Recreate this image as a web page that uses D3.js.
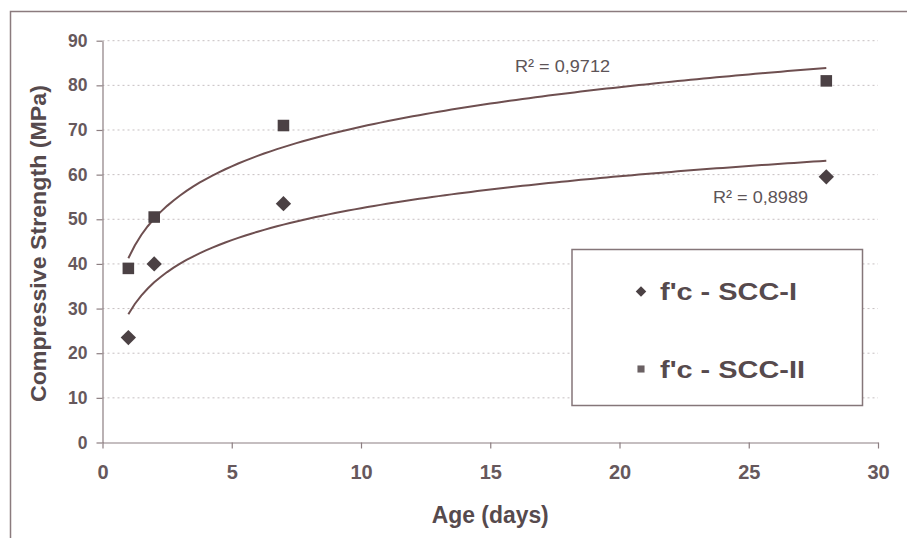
<!DOCTYPE html>
<html>
<head>
<meta charset="utf-8">
<script src="https://cdn.jsdelivr.net/npm/d3@7"></script>
<style>
  body { margin: 0; background: #fff; }
  svg { display: block; }
  .tick text { font-family: "Liberation Sans", Arial, sans-serif; font-weight: bold; fill: #66585c; }
  .title { font-family: "Liberation Sans", Arial, sans-serif; font-weight: bold; fill: #564a4d; }
</style>
</head>
<body>
<div class="chart"></div>
<script>
// data
const days = [1, 2, 7, 28];
const scc1 = [23.5, 40, 53.5, 59.5];
const scc2 = [39, 50.5, 71, 81];
const seriesNames = ["f'c - SCC-I", "f'c - SCC-II"];
const r2Labels = ['R\u00b2 = 0,8989', 'R\u00b2 = 0,9712'];
const xTicks = [0, 5, 10, 15, 20, 25, 30];
const yTicks = [0, 10, 20, 30, 40, 50, 60, 70, 80, 90];

const W = 907, H = 538;
const ink = '#4b4144';
const lineCol = '#6e4f50';

const svg = d3.select('.chart').append('svg').attr('width', W).attr('height', H);

// outer frame (right and bottom run off the picture)
svg.append('path')
  .attr('d', 'M10.5,545 V11.5 H915')
  .attr('fill', 'none')
  .attr('stroke', '#8b7b7e')
  .attr('stroke-width', 1.5);

const x = d3.scaleLinear().domain([0, 30]).range([102.5, 878]);
const y = d3.scaleLinear().domain([0, 90]).range([442.5, 40.7]);

// dotted gridlines
svg.append('g')
  .selectAll('line')
  .data(yTicks.filter(d => d > 0))
  .enter()
  .append('line')
  .attr('x1', x(0))
  .attr('x2', x(30))
  .attr('y1', d => y(d))
  .attr('y2', d => y(d))
  .attr('stroke', '#c6bfc1')
  .attr('stroke-width', 1)
  .attr('stroke-dasharray', '2,3');

const yAxis = svg.append('g')
  .attr('transform', `translate(${x(0)},0)`)
  .call(d3.axisLeft(y).tickValues(yTicks).tickSize(6).tickPadding(9).tickSizeOuter(0));
yAxis.selectAll('text').style('font-size', '17.5px');

const xAxis = svg.append('g')
  .attr('transform', `translate(0,${y(0)})`)
  .call(d3.axisBottom(x).tickValues(xTicks).tickSize(6).tickPadding(16).tickSizeOuter(0));
xAxis.selectAll('text').style('font-size', '20px');

svg.selectAll('.domain, .tick line').attr('stroke', '#8c7e81').attr('stroke-width', 1.2);

// axis titles
svg.append('text')
  .attr('class', 'title')
  .attr('x', x(15))
  .attr('y', 523)
  .attr('text-anchor', 'middle')
  .attr('textLength', 117)
  .attr('lengthAdjust', 'spacingAndGlyphs')
  .style('font-size', '23px')
  .text('Age (days)');

svg.append('text')
  .attr('class', 'title')
  .attr('transform', `translate(46,${(y(0) + y(90)) / 2 + 2}) rotate(-90)`)
  .attr('text-anchor', 'middle')
  .attr('textLength', 317)
  .attr('lengthAdjust', 'spacingAndGlyphs')
  .style('font-size', '22px')
  .text('Compressive Strength (MPa)');

// logarithmic trend lines, fitted to the points
function logFit(xs, ys) {
  const lx = xs.map(Math.log);
  const mx = d3.mean(lx), my = d3.mean(ys);
  const sxy = d3.sum(lx, (v, i) => (v - mx) * (ys[i] - my));
  const sxx = d3.sum(lx, v => (v - mx) * (v - mx));
  const a = sxy / sxx;
  return { a, b: my - a * mx };
}

const line = d3.line().x(d => x(d[0])).y(d => y(d[1])).curve(d3.curveLinear);
const span = d3.range(1, 28.001, 0.25);

[scc1, scc2].forEach(vals => {
  const fit = logFit(days, vals);
  svg.append('path')
    .datum(span.map(t => [t, fit.a * Math.log(t) + fit.b]))
    .attr('d', line)
    .attr('fill', 'none')
    .attr('stroke', lineCol)
    .attr('stroke-width', 2);
});

// markers
const diamond = d3.symbol().type(d3.symbolDiamond2);
const square = d3.symbol().type(d3.symbolSquare2);

svg.append('g')
  .selectAll('path')
  .data(days.map((d, i) => [d, scc1[i]]))
  .enter()
  .append('path')
  .attr('d', diamond.size(150)())
  .attr('transform', d => `translate(${x(d[0])},${y(d[1])})`)
  .attr('fill', ink);

svg.append('g')
  .selectAll('path')
  .data(days.map((d, i) => [d, scc2[i]]))
  .enter()
  .append('path')
  .attr('d', square.size(170)())
  .attr('transform', d => `translate(${x(d[0])},${y(d[1])})`)
  .attr('fill', ink);

// R² labels
const r2Pos = [[713, 203], [515, 72]];
svg.selectAll('.r2')
  .data(r2Labels)
  .enter()
  .append('text')
  .attr('class', 'r2')
  .attr('x', (d, i) => r2Pos[i][0])
  .attr('y', (d, i) => r2Pos[i][1])
  .attr('textLength', 95)
  .attr('lengthAdjust', 'spacingAndGlyphs')
  .style('font-family', '"Liberation Sans", Arial, sans-serif')
  .style('font-size', '17px')
  .style('fill', '#5d5457')
  .text(d => d);

// legend
svg.append('rect')
  .attr('x', 572)
  .attr('y', 249.5)
  .attr('width', 290.5)
  .attr('height', 156)
  .attr('fill', '#fff')
  .attr('stroke', '#857679')
  .attr('stroke-width', 1.5);

const legendRows = [
  { name: seriesNames[0], sym: diamond.size(70)(), cy: 291.5, width: 137 },
  { name: seriesNames[1], sym: square.size(64)(), cy: 369, width: 145 }
];

const lg = svg.selectAll('.lg')
  .data(legendRows)
  .enter()
  .append('g')
  .attr('class', 'lg');

lg.append('path')
  .attr('d', d => d.sym)
  .attr('transform', d => `translate(641,${d.cy})`)
  .attr('fill', (d, i) => (i === 0 ? ink : '#6a6063'));

lg.append('text')
  .attr('class', 'title')
  .attr('x', 660)
  .attr('y', d => d.cy + 8.5)
  .attr('textLength', d => d.width)
  .attr('lengthAdjust', 'spacingAndGlyphs')
  .style('font-size', '24px')
  .text(d => d.name);
</script>
</body>
</html>
